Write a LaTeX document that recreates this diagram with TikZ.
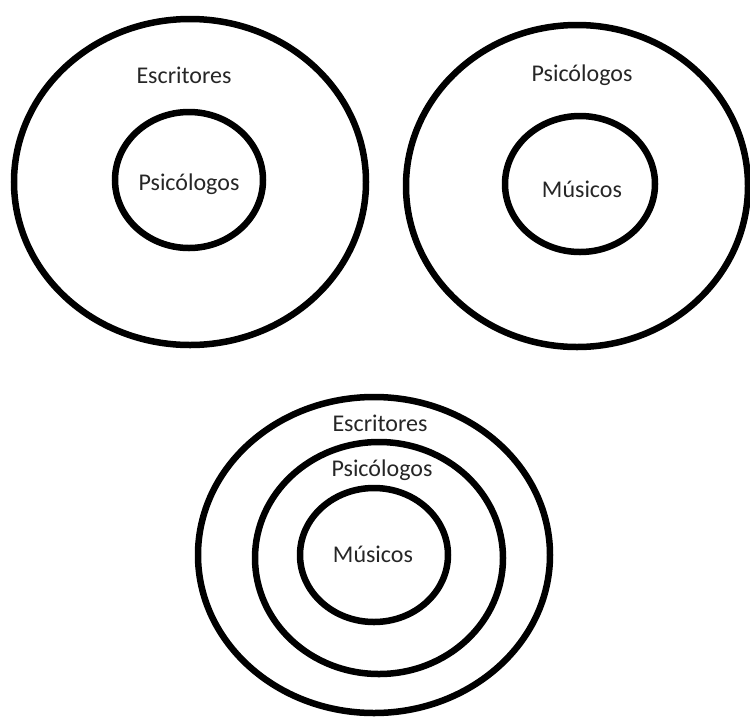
\documentclass[tikz,border=0pt]{standalone}
\usepackage{fontspec}
\setmainfont{Carlito}

\begin{document}
\begin{tikzpicture}[x=1pt, y=-1pt, line width=6.5pt,
    lbl/.style={text=black!85, inner sep=0pt, font=\fontsize{24}{28}\selectfont}]
  \useasboundingbox (0,0) rectangle (750,716);

  % top left: escritores contain psicologos
  \draw (190,182) ellipse [x radius=176pt, y radius=163pt];
  \draw (189,180) ellipse [x radius=74pt, y radius=68pt];
  \node[lbl] (escA) at (184,75) {Escritores};
  \node[lbl] (psiA) at (189,184) {Psicólogos};

  % top right: psicologos contain musicos
  \draw (577,186) ellipse [x radius=171pt, y radius=161pt];
  \draw (580,184) ellipse [x radius=75pt, y radius=68pt];
  \node[lbl] (psiB) at (582,75) {Psicólogos};
  \node[lbl] (musB) at (582,189) {Músicos};

  % bottom: all three nested
  \draw (374,555) ellipse [x radius=176pt, y radius=158pt];
  \draw (379,558) ellipse [x radius=124pt, y radius=116pt];
  \draw (374,555) ellipse [x radius=74pt, y radius=67pt];
  \node[lbl] (escC) at (380,423) {Escritores};
  \node[lbl] (psiC) at (382,470) {Psicólogos};
  \node[lbl] (musC) at (373,554) {Músicos};
\end{tikzpicture}
\end{document}
